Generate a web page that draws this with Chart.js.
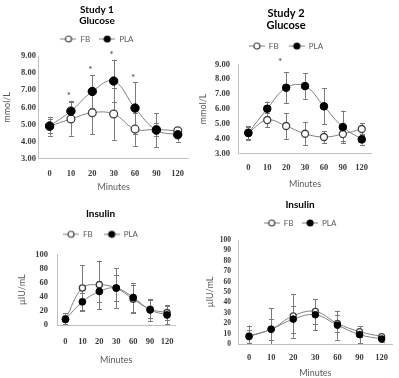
<!DOCTYPE html>
<html><head><meta charset="utf-8">
<script src="https://cdn.jsdelivr.net/npm/chart.js@4.4.0/dist/chart.umd.min.js"></script>
<style>
html,body{margin:0;padding:0;background:#fff;}
body{width:399px;height:378px;position:relative;overflow:hidden;}
canvas{position:absolute;}
</style></head><body>
<canvas id="c1"></canvas><canvas id="c2"></canvas><canvas id="c3"></canvas><canvas id="c4"></canvas>
<script>
// ---- data ----
const minutes = ['0','10','20','30','60','90','120'];
const seriesNames = ['FB','PLA'];
const glucoseTicks = [3, 4, 5, 6, 7, 8, 9];
const insulinTicks1 = [0, 20, 40, 60, 80, 100];
const insulinTicks2 = [0, 10, 20, 30, 40, 50, 60, 70, 80, 90, 100];

const s1GluFB     = [4.90, 5.32, 5.69, 5.61, 4.73, 4.71, 4.63];
const s1GluFBErr  = [0.55, 0.97, 1.27, 1.50, 0.97, 0.40, 0.18];
const s1GluPLA    = [4.91, 5.78, 6.93, 7.54, 5.96, 4.67, 4.40];
const s1GluPLAErr = [0.40, 0.60, 0.95, 1.25, 1.50, 1.00, 0.40];
const s1GluSig    = [0, 1, 1, 1, 1, 0, 0];

const s2GluFB     = [4.41, 5.26, 4.86, 4.34, 4.12, 4.32, 4.66];
const s2GluFBErr  = [0.40, 0.50, 0.87, 0.78, 0.40, 0.50, 0.40];
const s2GluPLA    = [4.39, 6.02, 7.43, 7.54, 6.18, 4.79, 3.96];
const s2GluPLAErr = [0.45, 0.48, 1.05, 0.85, 1.20, 1.10, 0.35];
const s2GluSig    = [0, 0, 1, 0, 0, 0, 0];

const s1InsFB     = [8.0, 52.4, 57.0, 52.4, 36.7, 22.4, 17.6];
const s1InsFBErr  = [9, 32.8, 34.4, 28, 20, 13, 11];
const s1InsPLA    = [8.0, 32.9, 47.6, 52.4, 39.0, 21.4, 14.3];
const s1InsPLAErr = [6, 12, 15, 18, 20.5, 16, 13];

const s2InsFB     = [7.7, 14.2, 27.1, 31.3, 19.7, 11.9, 7.1];
const s2InsFBErr  = [10, 20, 21, 12, 8, 5.2, 2];
const s2InsPLA    = [7.1, 14.2, 23.9, 28.1, 18.1, 9.0, 4.8];
const s2InsPLAErr = [6, 10, 13, 15, 14, 8, 2.5];

// ---- styles ----
const LINE = '#808080', ERR = '#7a7a7a', AXIS = '#bfbfbf';
const TICK = '#3a3a3a', LABEL = '#595959';
const SANS = 'Lato, "Open Sans", sans-serif';
const SERIF = '"Liberation Serif", serif';

function legendIcon(filled, r) {
  const c = document.createElement('canvas'); c.width = 16; c.height = 10;
  const g = c.getContext('2d');
  g.strokeStyle = LINE; g.lineWidth = 1;
  g.beginPath(); g.moveTo(0, 5); g.lineTo(16, 5); g.stroke();
  g.beginPath(); g.arc(8, 5, r, 0, Math.PI * 2);
  g.fillStyle = filled ? '#000' : '#fff'; g.fill();
  g.lineWidth = 1.2; g.strokeStyle = filled ? '#000' : '#404040'; g.stroke();
  return c;
}

function errorBarPlugin() {
  return { id: 'errorBars', beforeDatasetsDraw(chart) {
    const {ctx, chartArea: a} = chart; const ys = chart.scales.y;
    ctx.save(); ctx.beginPath(); ctx.rect(a.left, a.top - 20, a.right - a.left, a.bottom - a.top + 20); ctx.clip();
    ctx.strokeStyle = ERR; ctx.lineWidth = 1;
    chart.data.datasets.forEach((ds, di) => {
      const meta = chart.getDatasetMeta(di);
      meta.data.forEach((pt, i) => {
        const v = ds.data[i], e = ds.errors[i];
        const x = Math.round(pt.x) + 0.5;
        const yt = ys.getPixelForValue(v + e), yb = Math.min(ys.getPixelForValue(v - e), a.bottom);
        ctx.beginPath();
        ctx.moveTo(x, yt); ctx.lineTo(x, yb);
        ctx.moveTo(x - 2.5, Math.round(yt) + 0.5); ctx.lineTo(x + 2.5, Math.round(yt) + 0.5);
        if (ys.getPixelForValue(v - e) <= a.bottom) { ctx.moveTo(x - 2.5, Math.round(yb) + 0.5); ctx.lineTo(x + 2.5, Math.round(yb) + 0.5); }
        ctx.stroke();
      });
    });
    ctx.restore();
  }};
}

function sigPlugin(flags, dx, gap) {
  return { id: 'sigMarks', afterDatasetsDraw(chart) {
    if (!flags) return;
    const {ctx} = chart; const ys = chart.scales.y, xs = chart.scales.x;
    ctx.save(); ctx.fillStyle = '#404040'; ctx.font = '10px ' + SANS;
    ctx.textAlign = 'center'; ctx.textBaseline = 'middle';
    flags.forEach((f, i) => {
      if (!f) return;
      let top = -Infinity;
      chart.data.datasets.forEach(ds => { top = Math.max(top, ds.data[i] + ds.errors[i]); });
      ctx.fillText('*', xs.getPixelForValue(i) + dx, ys.getPixelForValue(top) - gap);
    });
    ctx.restore();
  }};
}

function legendExtraPlugin(extra) {
  return { id: 'legendExtra', beforeLayout(chart) {
    const lg = chart.legend;
    if (lg && !lg.__ext) { const f = lg.fit; lg.fit = function () { f.call(this); this.height += extra; }; lg.__ext = true; }
  }};
}

function makeChart(id, p) {
  const cv = document.getElementById(id);
  cv.width = p.w; cv.height = p.h;
  cv.style.left = p.left + 'px'; cv.style.top = p.top + 'px';
  const icons = [legendIcon(false, p.legendR), legendIcon(true, p.legendR)];
  const fmt = v => p.decimals ? Number(v).toFixed(p.decimals) : String(v);
  return new Chart(cv, {
    type: 'line',
    data: {
      labels: minutes,
      datasets: [
        { label: seriesNames[0], data: p.fb, errors: p.fbErr, order: 1,
          borderColor: LINE, borderWidth: 1, tension: 0.4,
          pointRadius: p.r - 0.3, pointBackgroundColor: '#fff', pointBorderColor: '#404040', pointBorderWidth: 1.3 },
        { label: seriesNames[1], data: p.pla, errors: p.plaErr, order: 0,
          borderColor: LINE, borderWidth: 1, tension: 0.4,
          pointRadius: p.r, pointBackgroundColor: '#000', pointBorderColor: '#000', pointBorderWidth: 1 }
      ]
    },
    options: {
      responsive: false, animation: false, devicePixelRatio: 1,
      layout: { padding: 0 },
      plugins: {
        tooltip: { enabled: false },
        title: { display: true, text: p.title, color: '#000',
          font: { family: SANS, size: p.titleSize, weight: 'bold', lineHeight: p.titleLH },
          padding: { top: p.titlePad, bottom: 0 } },
        legend: { display: true, position: 'top',
          labels: { usePointStyle: true, pointStyleWidth: 16, padding: p.legendPad, color: LABEL,
            font: { family: SANS, size: 8 },
            generateLabels: chart => chart.data.datasets.map((ds, i) => ({
              text: ds.label, pointStyle: icons[i], fillStyle: '#000', strokeStyle: '#000',
              lineWidth: 0, hidden: false, datasetIndex: i, fontColor: LABEL })) } }
      },
      scales: {
        x: { type: 'category', offset: true,
          grid: { display: false, drawTicks: false }, border: { display: true, color: AXIS },
          ticks: { padding: p.xTickPad, color: TICK, font: { family: SERIF, size: 8.5, weight: 'bold' }, maxRotation: 0, autoSkip: false },
          title: { display: true, text: 'Minutes', color: LABEL, font: { family: SANS, size: 9 }, padding: 0 },
          afterFit: s => { s.height = p.xH; } },
        y: { min: p.yTicks[0], max: p.yTicks[p.yTicks.length - 1],
          grid: { display: false, drawTicks: false }, border: { display: true, color: AXIS },
          afterBuildTicks: s => { s.ticks = p.yTicks.map(v => ({ value: v })); },
          ticks: { autoSkip: false, padding: p.yTickPad, color: TICK, font: { family: SERIF, size: p.yTickSize, weight: 'bold' }, callback: fmt },
          title: { display: true, text: p.yTitle, color: LABEL, font: { family: SANS, size: 9 }, padding: { top: p.yTitlePad, bottom: 0 } },
          afterFit: s => { s.width = p.yW; } }
      }
    },
    plugins: [errorBarPlugin(), sigPlugin(p.sig, p.sigDx, p.sigGap), legendExtraPlugin(p.legendExtra)]
  });
}

makeChart('c1', { left: 0, top: 0, w: 194, h: 192,
  title: ['Study 1', 'Glucose'], titleSize: 10, titleLH: 1.07, titlePad: 4.65,
  legendPad: 9, legendExtra: 3, legendR: 3,
  xH: 33.3, xTickPad: 9.5, yW: 38.9, yTickPad: 3, yTitlePad: 2, yTickSize: 8.5,
  yTicks: glucoseTicks, decimals: 2, yTitle: 'mmol/L', r: 4.2,
  fb: s1GluFB, fbErr: s1GluFBErr, pla: s1GluPLA, plaErr: s1GluPLAErr, sig: s1GluSig, sigDx: -2, sigGap: 5 });

makeChart('c2', { left: 195, top: 0, w: 182, h: 189,
  title: ['Study 2', 'Glucose'], titleSize: 11, titleLH: 1.12, titlePad: 7.15,
  legendPad: 10.25, legendExtra: 4.3, legendR: 3,
  xH: 35.3, xTickPad: 8.5, yW: 43.9, yTickPad: 9, yTitlePad: 3, yTickSize: 8.5,
  yTicks: glucoseTicks, decimals: 2, yTitle: 'mmol/L', r: 3.8,
  fb: s2GluFB, fbErr: s2GluFBErr, pla: s2GluPLA, plaErr: s2GluPLAErr, sig: s2GluSig, sigDx: -6, sigGap: 10 });

makeChart('c3', { left: 16, top: 200, w: 169, h: 165,
  title: 'Insulin', titleSize: 10, titleLH: 1.07, titlePad: 8.65,
  legendPad: 10.95, legendExtra: 6.2, legendR: 3,
  xH: 40, xTickPad: 11.2, yW: 41, yTickPad: 9, yTitlePad: 0.3, yTickSize: 8.5,
  yTicks: insulinTicks1, decimals: 0, yTitle: 'µIU/mL', r: 3.4,
  fb: s1InsFB, fbErr: s1InsFBErr, pla: s1InsPLA, plaErr: s1InsPLAErr, sig: null, sigDx: 0, sigGap: 0 });

makeChart('c4', { left: 202, top: 195, w: 196, h: 183,
  title: 'Insulin', titleSize: 10, titleLH: 1.07, titlePad: 4.65,
  legendPad: 8.65, legendExtra: 3, legendR: 3,
  xH: 34, xTickPad: 8.5, yW: 36, yTickPad: 7, yTitlePad: 2.6, yTickSize: 7.5,
  yTicks: insulinTicks2, decimals: 0, yTitle: 'µIU/mL', r: 3.3,
  fb: s2InsFB, fbErr: s2InsFBErr, pla: s2InsPLA, plaErr: s2InsPLAErr, sig: null, sigDx: 0, sigGap: 0 });
</script>
</body></html>
